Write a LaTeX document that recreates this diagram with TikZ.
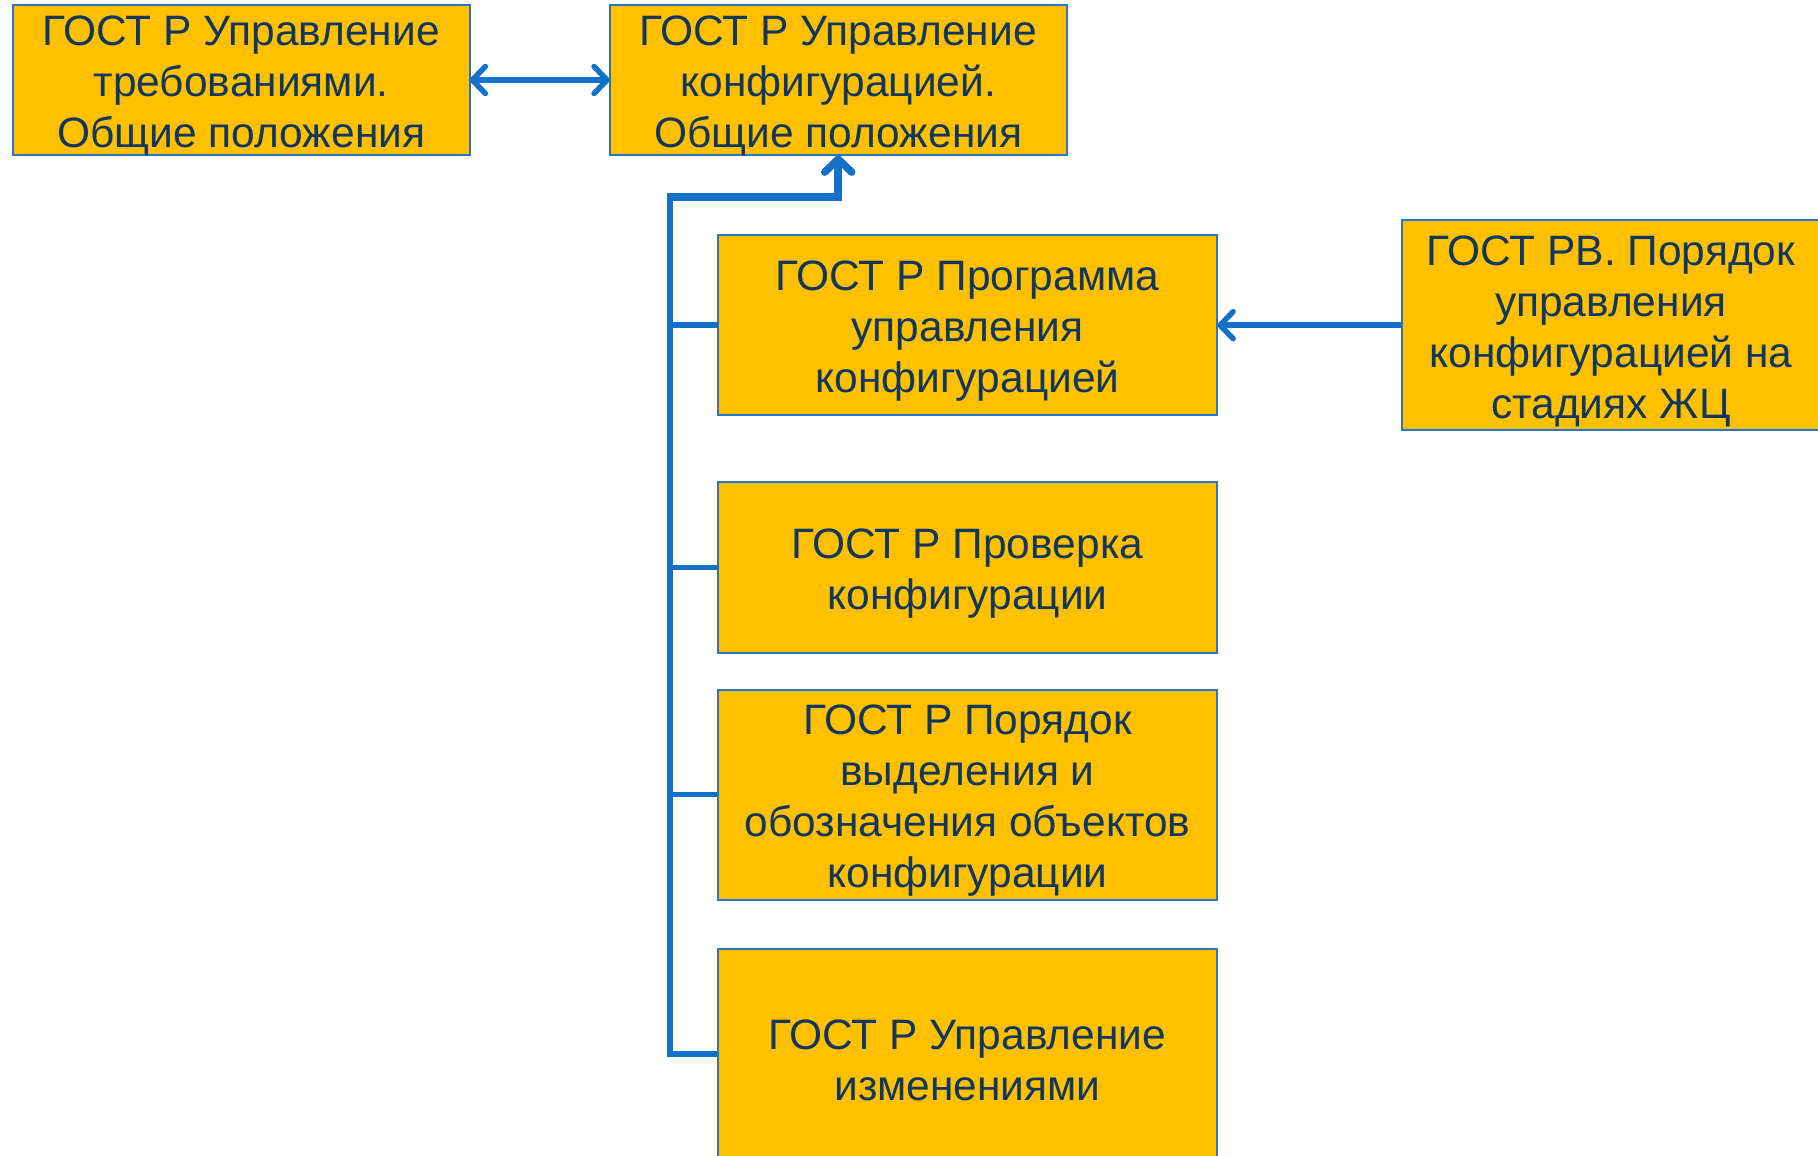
\documentclass[tikz,border=0pt]{standalone}
\usepackage{fontspec}
\setmainfont{Liberation Sans}
\usetikzlibrary{arrows.meta}
\definecolor{boxfill}{RGB}{255,192,0}
\definecolor{boxline}{RGB}{46,117,200}
\definecolor{txt}{RGB}{17,55,95}
\definecolor{conn}{RGB}{21,112,200}
\tikzset{mybarb/.tip={Straight Barb[length=13pt,width=27pt,round]}}
\begin{document}
\begin{tikzpicture}[x=1pt,y=-1pt,
  gbox/.style={draw=boxline, line width=2pt, fill=boxfill, inner sep=0pt, outer sep=0pt},
  gtext/.style={text=txt, align=center, yshift=-6pt,
    font=\fontsize{42.5}{51}\selectfont, inner sep=0pt},
  conline/.style={draw=conn, line width=5.5pt, line join=miter, line cap=rect}]
\clip (0,0) rectangle (1818,1156);
\fill[white] (0,0) rectangle (1818,1156);
\node[gbox, minimum width=456.8pt, minimum height=150.8pt] (A) at (241.2,80) {};
\node[gtext] (At) at (A.center) {ГОСТ Р Управление\\требованиями.\\Общие положения};
\node[gbox, minimum width=456.8pt, minimum height=150.8pt] (B) at (838.2,80) {};
\node[gtext] (Bt) at (B.center) {ГОСТ Р Управление\\конфигурацией.\\Общие положения};
\node[gbox, minimum width=499.7pt, minimum height=179.7pt] (C) at (967.5,325.2) {};
\node[gtext] (Ct) at (C.center) {ГОСТ Р Программа\\управления\\конфигурацией};
\node[gbox, minimum width=418.3pt, minimum height=209.8pt] (D) at (1610.9,325.2) {};
\node[gtext] (Dt) at (D.center) {ГОСТ РВ. Порядок\\управления\\конфигурацией на\\стадиях ЖЦ};
\node[gbox, minimum width=499.7pt, minimum height=170.4pt] (E) at (967.5,567.5) {};
\node[gtext] (Et) at (E.center) {ГОСТ Р Проверка\\конфигурации};
\node[gbox, minimum width=499.7pt, minimum height=209.9pt] (F) at (967.5,794.7) {};
\node[gtext] (Ft) at (F.center) {ГОСТ Р Порядок\\выделения и\\обозначения объектов\\конфигурации};
\node[gbox, minimum width=499.7pt, minimum height=209.5pt] (G) at (967.5,1054.2) {};
\node[gtext] (Gt) at (G.center) {ГОСТ Р Управление\\изменениями};
\coordinate (bend) at (670,197);
% connectors
\draw[conline, line cap=butt, mybarb-mybarb] (A) -- (B);
\draw[conline, line cap=butt, -mybarb] (D) -- (C);
\draw[conline, line cap=butt] (G.west) -| (bend);
\draw[conline, line cap=butt] (C.west) -- (C.west -| bend);
\draw[conline, line cap=butt] (E.west) -- (E.west -| bend);
\draw[conline, line cap=butt] (F.west) -- (F.west -| bend);
\draw[conline, line width=7.5pt, line cap=butt, -mybarb] ([xshift=-2.75pt]bend) -| (B.south);
\end{tikzpicture}
\end{document}
